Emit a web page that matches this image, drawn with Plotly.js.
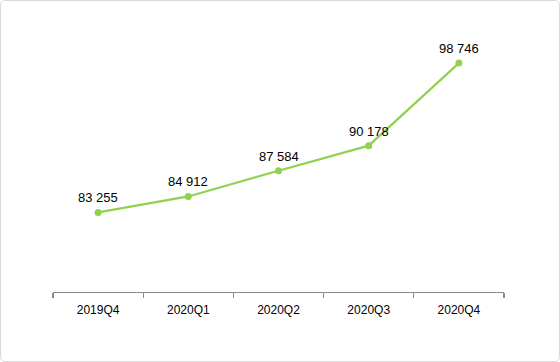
<!DOCTYPE html>
<html><head><meta charset="utf-8">
<script src="https://cdn.plot.ly/plotly-3.0.1.min.js"></script>
<style>
html,body{margin:0;padding:0;background:#fff;}
#wrap{position:relative;width:560px;height:362px;}
#chart{width:560px;height:362px;}
#frame{position:absolute;left:0;top:0;width:558px;height:360px;border:1px solid #d9d9d9;border-radius:5px;pointer-events:none;}
</style></head>
<body>
<div id="wrap"><div id="chart"></div><div id="frame"></div></div>
<script>
const categories = ["2019Q4", "2020Q1", "2020Q2", "2020Q3", "2020Q4"];
const values = [83255, 84912, 87584, 90178, 98746];
const labels = ["83 255", "84 912", "87 584", "90 178", "98 746"];

const annotations = categories.map((c, i) => ({
  x: c, y: values[i], xref: "x", yref: "y",
  text: labels[i], showarrow: false,
  yanchor: "bottom", yshift: 5,
  font: {family: "Liberation Sans, Arial, sans-serif", size: 13, color: "#000"}
}));

Plotly.newPlot("chart", [{
  type: "scatter",
  mode: "lines+markers",
  x: categories,
  y: values,
  line: {color: "#92D050", width: 2.2},
  marker: {color: "#92D050", size: 7},
  cliponaxis: false,
  hoverinfo: "none"
}], {
  width: 560, height: 362,
  margin: {l: 53, r: 56, t: 51, b: 70},
  paper_bgcolor: "#fff", plot_bgcolor: "#fff",
  showlegend: false,
  font: {family: "Liberation Sans, Arial, sans-serif", size: 12, color: "#000"},
  annotations: annotations,
  xaxis: {
    type: "category",
    range: [-0.5, 4.5],
    tickson: "boundaries",
    ticks: "outside", ticklen: 5, tickcolor: "#898989", tickwidth: 1.3,
    ticklabelstandoff: 6,
    showline: true, linecolor: "#898989", linewidth: 1.3,
    showgrid: false, zeroline: false,
    tickfont: {size: 12, color: "#000"}
  },
  yaxis: {
    range: [75000, 100000],
    visible: false, showgrid: false, zeroline: false
  }
}, {staticPlot: true});
</script>
</body></html>
